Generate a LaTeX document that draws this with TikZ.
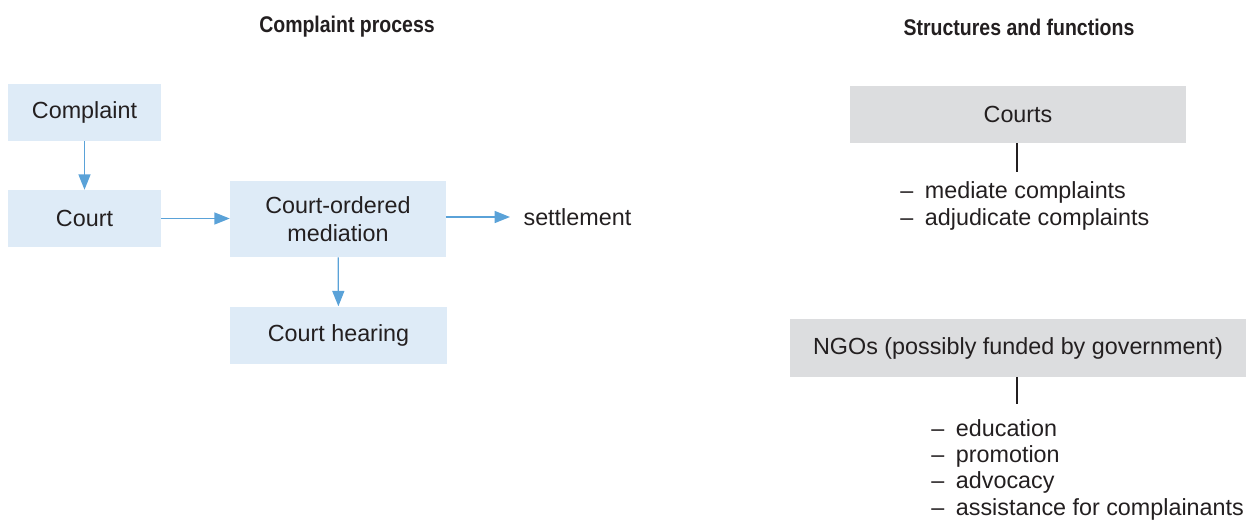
\documentclass[tikz,border=0pt]{standalone}
\usepackage{fontspec}
\setmainfont{Liberation Sans}
\newfontfamily\headfont{Liberation Sans}[FakeStretch=0.86]
\usetikzlibrary{arrows.meta,positioning}
\definecolor{boxblue}{HTML}{DEEBF7}
\definecolor{arrowblue}{HTML}{5AA2D8}
\definecolor{boxgray}{HTML}{DCDDDF}
\definecolor{inkdark}{HTML}{231F20}

\begin{document}
\begin{tikzpicture}[
				x=0.75pt, y=-0.75pt,
				every node/.style = {text=inkdark, font=\fontsize{17.5}{20}\selectfont},
				title/.style = {font=\headfont\fontsize{17}{20}\selectfont\bfseries},
				stepbox/.style = {fill=boxblue, minimum width=114.75pt, minimum height=42.75pt, align=center},
				bodybox/.style = {fill=boxgray, minimum height=43pt, align=center},
				items/.style = {anchor=west, align=left, inner sep=0pt},
				line/.style = {-{Triangle[length=11.5pt, width=9pt]}, arrowblue, line width=1pt},
				stem/.style = {inkdark, line width=0.9pt}
				]
				\useasboundingbox (0,0) rectangle (1248,519);
				
				% left half: the process
				\node[title] (proc) at (347,27) {Complaint process};
				\node[stepbox] (complaint) at (84.5,112.5) {Complaint};
				\node[stepbox] (court) at (84.5,218.5) {Court};
				\node[stepbox, minimum width=162pt, minimum height=57pt, font=\fontsize{17.5}{20.5}\selectfont] (mediation) at (338,219) {Court-ordered\\mediation};
				\node[stepbox, minimum width=162.75pt] (hearing) at (338.5,335) {Court hearing};
				\node[anchor=west, inner xsep=10pt] (settle) at (510,217) {settlement};
				
				\draw[line] (complaint) -- (court);
				\draw[line] (court) -- (court -| mediation.west);
				\draw[line] (mediation.east |- settle) -- (settle);
				\draw[line] (mediation) -- (hearing);
				
				% right half: who does what
				\node[title] (struct) at (1019,27) {Structures and functions};
				\node[bodybox, minimum width=252pt] (courts) at (1018,114.5) {Courts};
				\coordinate (courtsend) at (1017,172);
				\node[items, font=\fontsize{17.5}{20.25}\selectfont] (courtjobs) at (900,205.5)
					{\textendash\enspace mediate complaints\\\textendash\enspace adjudicate complaints};
				\node[bodybox, minimum width=342pt] (ngos) at (1018,348) {NGOs (possibly funded by government)};
				\coordinate (ngosend) at (1017,404);
				\node[items, font=\fontsize{17.5}{19.75}\selectfont] (ngojobs) at (931,469.5)
					{\textendash\enspace education\\\textendash\enspace promotion\\\textendash\enspace advocacy\\\textendash\enspace assistance for complainants};
				
				\draw[stem] (courts.south -| courtsend) -- (courtsend);
				\draw[stem] (ngos.south -| ngosend) -- (ngosend);
			\end{tikzpicture}
\end{document}
